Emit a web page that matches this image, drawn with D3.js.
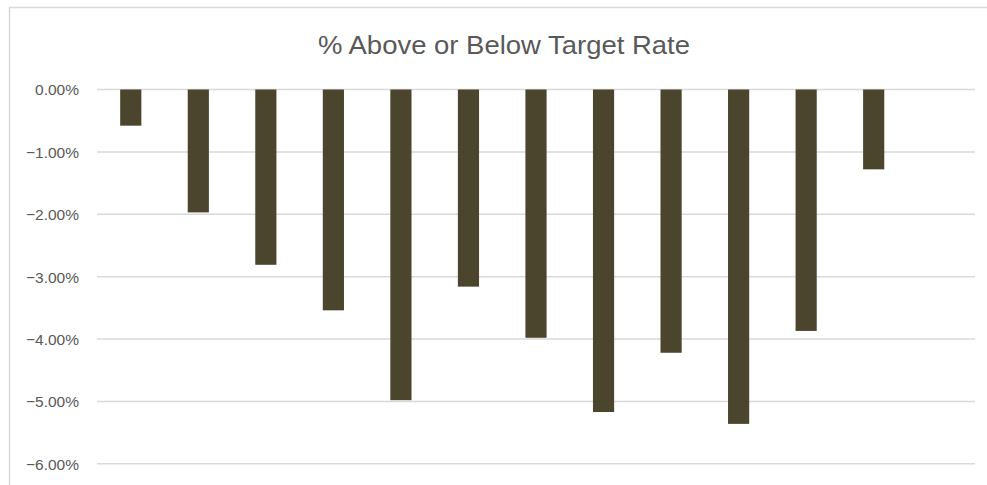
<!DOCTYPE html>
<html>
<head>
<meta charset="utf-8">
<script src="https://cdn.jsdelivr.net/npm/d3@7"></script>
<style>
  html, body { margin: 0; padding: 0; background: #ffffff; }
  svg { display: block; }
</style>
</head>
<body>
<svg id="chart" width="987" height="485"></svg>
<script>
// Period slots along the horizontal axis (the last slot has no reading yet)
const categories = ["P1", "P2", "P3", "P4", "P5", "P6", "P7", "P8", "P9", "P10", "P11", "P12", "P13"];
// Percent above (+) or below (-) the target rate for each period
const values = [-0.58, -1.97, -2.81, -3.54, -4.98, -3.16, -3.98, -5.17, -4.22, -5.36, -3.87, -1.28, null];
// Value-axis ticks, in percent
const tickValues = [0, -1, -2, -3, -4, -5, -6];
const title = "% Above or Below Target Rate";

const svg = d3.select("#chart");
const W = 987, H = 485;
const plot = { left: 97, right: 975, top: 89.5, bottom: 463.8 };
const gridColor = "#d9d9d9";
const textColor = "#595959";
const barColor = "#4a452c";

// Chart frame
svg.append("rect")
  .attr("x", 9.5).attr("y", 7.5)
  .attr("width", W + 20).attr("height", H + 20)
  .attr("fill", "#ffffff")
  .attr("stroke", gridColor).attr("stroke-width", 1.5);

// Title
svg.append("text")
  .attr("x", 504).attr("y", 54)
  .attr("text-anchor", "middle")
  .attr("font-family", "'Liberation Sans', Arial, sans-serif")
  .attr("font-size", 26)
  .attr("fill", textColor)
  .attr("textLength", 372)
  .attr("lengthAdjust", "spacingAndGlyphs")
  .text(title);

const x = d3.scaleBand()
  .domain(categories)
  .range([plot.left, plot.right])
  .padding(0);

const y = d3.scaleLinear()
  .domain([-6, 0])
  .range([plot.bottom, plot.top]);

// Horizontal gridlines
svg.append("g")
  .selectAll("line")
  .data(tickValues)
  .join("line")
  .attr("x1", plot.left).attr("x2", plot.right)
  .attr("y1", d => y(d)).attr("y2", d => y(d))
  .attr("stroke", gridColor)
  .attr("stroke-width", 1.5);

// Value axis labels
const yAxis = d3.axisLeft(y)
  .tickValues(tickValues)
  .tickFormat(d => d3.format(".2f")(d) + "%")
  .tickSize(0)
  .tickPadding(0);

const gy = svg.append("g")
  .attr("transform", `translate(79,0)`)
  .call(yAxis);
gy.select(".domain").remove();
gy.selectAll("text")
  .attr("font-family", "'Liberation Sans', Arial, sans-serif")
  .attr("font-size", 15.5)
  .attr("fill", textColor)
  .attr("dy", "0.35em");

// Bars: gap width of about 219% of the bar width
const barW = x.bandwidth() / 3.19;
const series = categories.map((c, i) => ({ c, v: values[i] })).filter(d => d.v != null);

svg.append("g")
  .selectAll("rect")
  .data(series)
  .join("rect")
  .attr("x", d => x(d.c) + (x.bandwidth() - barW) / 2)
  .attr("width", barW)
  .attr("y", d => y(Math.max(0, d.v)))
  .attr("height", d => Math.abs(y(d.v) - y(0)))
  .attr("fill", barColor);
</script>
</body>
</html>
